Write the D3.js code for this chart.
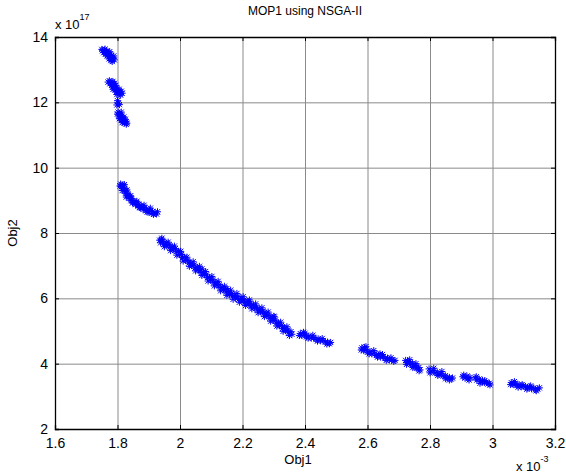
<!DOCTYPE html>
<html>
<head>
<meta charset="utf-8">
<script src="https://cdn.jsdelivr.net/npm/d3@7"></script>
<style>
  html, body { margin: 0; padding: 0; background: #fff; overflow: hidden; }
  svg { display: block; }
  text { font-family: "Liberation Sans", Arial, sans-serif; fill: #000; }
</style>
</head>
<body>
<div id="plot"></div>
<script>
// Obj1 values (x 10^-3) and Obj2 values (x 10^17)
const clusterA = [[1.752,13.58],[1.758,13.60],[1.762,13.55],[1.756,13.52],[1.765,13.57],[1.768,13.50],[1.761,13.47],[1.772,13.52],[1.770,13.44],[1.776,13.47],[1.774,13.40],[1.780,13.43],[1.778,13.36],[1.784,13.38],[1.782,13.31],[1.786,13.34],[1.779,13.28],[1.788,13.42],
  [1.750,13.62],[1.760,13.63],[1.767,13.42],[1.790,13.30],[1.775,13.55],[1.783,13.25],[1.773,13.33]];
const clusterB = [[1.774,12.66],[1.779,12.62],[1.776,12.57],[1.783,12.58],[1.781,12.52],[1.787,12.54],[1.785,12.47],[1.791,12.49],[1.789,12.42],[1.795,12.44],[1.793,12.38],[1.799,12.40],[1.797,12.33],[1.803,12.35],[1.801,12.29],[1.808,12.31],[1.806,12.26],[1.812,12.34],[1.790,12.58],
  [1.770,12.62],[1.785,12.64],[1.795,12.52],[1.786,12.40],[1.805,12.40],[1.810,12.22],[1.798,12.24],[1.815,12.28],
  [1.800,12.05],[1.803,11.97],[1.798,11.92],[1.806,11.93]];
const clusterC = [[1.802,11.70],[1.806,11.66],[1.804,11.61],[1.809,11.63],[1.808,11.56],[1.813,11.58],[1.811,11.51],[1.816,11.53],[1.815,11.46],[1.820,11.48],[1.818,11.41],[1.824,11.43],[1.822,11.37],[1.827,11.40],
  [1.800,11.64],[1.812,11.70],[1.806,11.50],[1.820,11.55],[1.815,11.38],[1.828,11.33],[1.825,11.48],[1.830,11.36]];
const clusterD = [[1.810,9.50],[1.815,9.47],[1.812,9.42],[1.819,9.44],[1.817,9.37],[1.823,9.36],[1.821,9.30],[1.828,9.29],[1.826,9.22],[1.833,9.20],[1.831,9.14],[1.839,9.12],[1.837,9.06],[1.845,9.05],[1.843,8.99],[1.852,8.99],[1.850,8.93],[1.860,8.93],[1.858,8.87],[1.868,8.88],[1.866,8.82],[1.876,8.83],[1.874,8.77],[1.884,8.78],[1.882,8.72],[1.893,8.74],[1.891,8.68],[1.902,8.70],[1.900,8.64],[1.912,8.66],[1.910,8.60],[1.920,8.62],[1.925,8.58],
  [1.808,9.44],[1.822,9.48],[1.815,9.30],[1.830,9.32],[1.828,9.10],[1.842,9.14],[1.848,8.92],[1.862,8.97],[1.870,8.78],[1.885,8.85],[1.895,8.64],[1.905,8.76],[1.915,8.57],[1.928,8.65]];
const clusterE = [[1.935,7.78],[1.938,7.70],[1.945,7.74],[1.948,7.66],[1.955,7.70],[1.958,7.61],[1.965,7.64],[1.968,7.56],[1.975,7.58],[1.978,7.49],[1.985,7.52],[1.988,7.43],[1.995,7.44],[1.998,7.34],[2.005,7.34],[2.008,7.25],[2.015,7.26],[2.018,7.17],[2.025,7.16],[2.028,7.08],[2.035,7.08],[2.038,7.00],[2.045,7.02],[2.048,6.93],[2.055,6.95],[2.058,6.86],[2.065,6.88],[2.068,6.79],[2.075,6.80],[2.078,6.72],[2.085,6.72],[2.088,6.64],[2.095,6.64],[2.098,6.56],[2.105,6.57],[2.108,6.48],[2.115,6.49],[2.118,6.41],[2.125,6.42],[2.128,6.33],[2.135,6.34],[2.138,6.26],[2.145,6.27],[2.148,6.19],[2.155,6.20],[2.158,6.12],[2.165,6.15],[2.168,6.07],[2.175,6.10],[2.178,6.02],[2.185,6.05],[2.188,5.97],[2.195,6.00],[2.198,5.92],[2.205,5.95],[2.208,5.87],[2.215,5.90],[2.218,5.82],[2.225,5.85],[2.228,5.77],[2.235,5.79],[2.238,5.71],[2.245,5.73],[2.248,5.65],[2.255,5.67],[2.258,5.59],[2.265,5.61],[2.268,5.53],[2.275,5.55],[2.278,5.46],[2.285,5.48],[2.288,5.39],[2.295,5.41],[2.298,5.32],[2.305,5.33],[2.308,5.24],[2.315,5.25],[2.318,5.16],[2.325,5.17],[2.328,5.08],[2.335,5.10],[2.338,5.01],[2.345,5.03],[2.348,4.95],[2.355,4.98],[2.358,4.90],
  [1.940,7.80],[2.000,7.42],[2.070,6.90],[2.150,6.30],[2.220,5.90],[2.300,5.45],
  [1.942,7.84],[1.962,7.72],[1.982,7.60],[2.002,7.44],[2.022,7.26],[2.042,7.12],[2.062,6.98],[2.082,6.82],[2.102,6.67],[2.122,6.52],[2.142,6.37],[2.162,6.25],[2.182,6.15],[2.202,6.05],[2.222,5.95],[2.242,5.83],[2.262,5.71],[2.282,5.58],[2.302,5.43],[2.322,5.27],[2.342,5.13],
  [1.950,7.58],[1.970,7.46],[1.990,7.32],[2.010,7.14],[2.030,6.98],[2.050,6.84],[2.070,6.70],[2.090,6.53],[2.110,6.38],[2.130,6.23],[2.150,6.09],[2.170,5.97],[2.190,5.88],[2.210,5.78],[2.230,5.68],[2.250,5.56],[2.270,5.44],[2.290,5.30],[2.310,5.15],[2.330,4.99],[2.350,4.86]];
const clusterE2 = [[2.385,4.92],[2.390,4.86],[2.398,4.88],[2.405,4.82],[2.412,4.84],[2.420,4.78],[2.428,4.80],[2.435,4.74],[2.442,4.76],[2.450,4.70],[2.458,4.71],[2.465,4.66],[2.472,4.66],[2.478,4.61],[2.400,4.93],
  [2.382,4.86],[2.395,4.96],[2.410,4.78],[2.425,4.87],[2.440,4.69],[2.455,4.77],[2.470,4.60],[2.482,4.65]];
const clusterF = [[2.582,4.48],[2.588,4.40],[2.595,4.43],[2.600,4.35],[2.608,4.37],[2.614,4.30],[2.622,4.32],[2.628,4.25],[2.636,4.27],[2.642,4.20],[2.650,4.22],[2.656,4.16],[2.664,4.17],[2.670,4.11],[2.678,4.12],[2.684,4.07],[2.590,4.50],[2.640,4.30],
  [2.580,4.42],[2.595,4.52],[2.605,4.30],[2.620,4.40],[2.632,4.20],[2.648,4.28],[2.660,4.10],[2.675,4.18],[2.688,4.10]];
const clusterG = [[2.722,4.10],[2.728,4.03],[2.733,4.06],[2.738,3.98],[2.744,4.00],[2.748,3.92],[2.754,3.94],[2.758,3.86],[2.764,3.88],[2.768,3.81],
  [2.725,3.98],[2.735,4.12],[2.745,3.88],[2.755,4.00],[2.765,3.78]];
const clusterH = [[2.797,3.84],[2.803,3.77],[2.810,3.79],[2.816,3.72],[2.823,3.74],[2.829,3.67],[2.836,3.69],[2.842,3.62],[2.849,3.63],[2.855,3.57],[2.862,3.58],[2.868,3.53],
  [2.800,3.72],[2.812,3.86],[2.825,3.64],[2.838,3.76],[2.850,3.54],[2.862,3.50],[2.872,3.56]];
const clusterI = [[2.905,3.60],[2.912,3.56],[2.918,3.62],[2.922,3.54],[2.928,3.58],[2.945,3.56],[2.950,3.50],[2.957,3.53],[2.962,3.46],[2.968,3.49],[2.974,3.42],[2.980,3.44],[2.986,3.38],[2.990,3.40],
  [2.908,3.65],[2.925,3.50],[2.948,3.60],[2.960,3.40],[2.975,3.48],[2.992,3.35]];
const clusterJ = [[3.060,3.42],[3.066,3.36],[3.072,3.40],[3.078,3.33],[3.085,3.36],[3.092,3.29],[3.098,3.32],[3.105,3.30],[3.112,3.26],[3.118,3.29],[3.125,3.23],[3.132,3.26],[3.138,3.20],[3.145,3.23],
  [3.058,3.36],[3.070,3.45],[3.082,3.28],[3.095,3.36],[3.110,3.22],[3.122,3.32],[3.140,3.17],[3.150,3.26]];

const xTicks = [1.6, 1.8, 2, 2.2, 2.4, 2.6, 2.8, 3, 3.2];
const yTicks = [2, 4, 6, 8, 10, 12, 14];
const titleText = "MOP1 using NSGA-II";
const xLabel = "Obj1";
const yLabel = "Obj2";

const points = [].concat(clusterA, clusterB, clusterC, clusterD, clusterE, clusterE2,
  clusterF, clusterG, clusterH, clusterI, clusterJ);

const w = 566, h = 475;
const margin = {top: 37, right: 11, bottom: 46, left: 55};
const innerWidth = w - margin.left - margin.right;
const innerHeight = h - margin.top - margin.bottom;

const xScale = d3.scaleLinear().domain([1.6, 3.2]).range([0, innerWidth]);
const yScale = d3.scaleLinear().domain([2, 14]).range([innerHeight, 0]);

const svg = d3.select("div#plot")
  .append("svg")
  .attr("width", w)
  .attr("height", h);

svg.append("rect")
  .attr("width", w)
  .attr("height", h)
  .attr("fill", "#fff");

const g = svg.append("g")
  .attr("transform", `translate(${margin.left}, ${margin.top})`);

// grid lines (no labels)
g.append("g")
  .attr("transform", `translate(0, ${innerHeight})`)
  .call(d3.axisBottom(xScale).tickValues(xTicks).tickSize(-innerHeight).tickFormat(""))
  .call(s => s.select(".domain").remove())
  .call(s => s.selectAll("text").remove())
  .selectAll("line")
  .attr("stroke", "#8a8a8a")
  .attr("stroke-width", 1);

g.append("g")
  .call(d3.axisLeft(yScale).tickValues(yTicks).tickSize(-innerWidth).tickFormat(""))
  .call(s => s.select(".domain").remove())
  .call(s => s.selectAll("text").remove())
  .selectAll("line")
  .attr("stroke", "#8a8a8a")
  .attr("stroke-width", 1);

// star markers
const r = 3.5;
const starPath = `M${-r},0H${r}M0,${-r}V${r}M${-r*0.75},${-r*0.75}L${r*0.75},${r*0.75}M${-r*0.75},${r*0.75}L${r*0.75},${-r*0.75}`;
g.append("g")
  .selectAll("path")
  .data(points)
  .join("path")
  .attr("transform", d => `translate(${xScale(d[0])}, ${yScale(d[1])})`)
  .attr("d", starPath)
  .attr("fill", "none")
  .attr("stroke", "#0000ff")
  .attr("stroke-width", 1);

// axes with inward ticks
const xAxis = g.append("g")
  .attr("transform", `translate(0, ${innerHeight})`)
  .call(d3.axisBottom(xScale).tickValues(xTicks).tickSize(-4).tickPadding(9).tickFormat(d3.format("")));
const xAxisTop = g.append("g")
  .call(d3.axisTop(xScale).tickValues(xTicks).tickSize(-4).tickFormat(""))
  .call(s => s.selectAll("text").remove());
const yAxis = g.append("g")
  .call(d3.axisLeft(yScale).tickValues(yTicks).tickSize(-4).tickPadding(7).tickFormat(d3.format("")));
const yAxisRight = g.append("g")
  .attr("transform", `translate(${innerWidth}, 0)`)
  .call(d3.axisRight(yScale).tickValues(yTicks).tickSize(-4).tickFormat(""))
  .call(s => s.selectAll("text").remove());

[xAxis, xAxisTop, yAxis, yAxisRight].forEach(a => {
  a.select(".domain").attr("stroke", "#000").attr("stroke-width", 1.3);
  a.selectAll(".tick line").attr("stroke", "#000");
  a.selectAll("text")
    .style("font-family", "'Liberation Sans', Arial, sans-serif")
    .style("font-size", "14px")
    .attr("fill", "#000");
});

// title
svg.append("text")
  .attr("x", 305)
  .attr("y", 15)
  .attr("text-anchor", "middle")
  .style("font-size", "12px")
  .text(titleText);

// axis labels
svg.append("text")
  .attr("x", 298)
  .attr("y", 464)
  .attr("text-anchor", "middle")
  .style("font-size", "13px")
  .text(xLabel);

svg.append("text")
  .attr("transform", "rotate(-90)")
  .attr("x", -233)
  .attr("y", 17)
  .attr("text-anchor", "middle")
  .style("font-size", "13px")
  .text(yLabel);

// exponent labels
const yExp = svg.append("text")
  .attr("x", 55)
  .attr("y", 29)
  .style("font-size", "13px")
  .text("x 10");
yExp.append("tspan").attr("dy", -9).style("font-size", "9px").text("17");

const xExp = svg.append("text")
  .attr("x", 516)
  .attr("y", 471)
  .style("font-size", "13px")
  .text("x 10");
xExp.append("tspan").attr("dy", -9).style("font-size", "9px").text("-3");
</script>
</body>
</html>
